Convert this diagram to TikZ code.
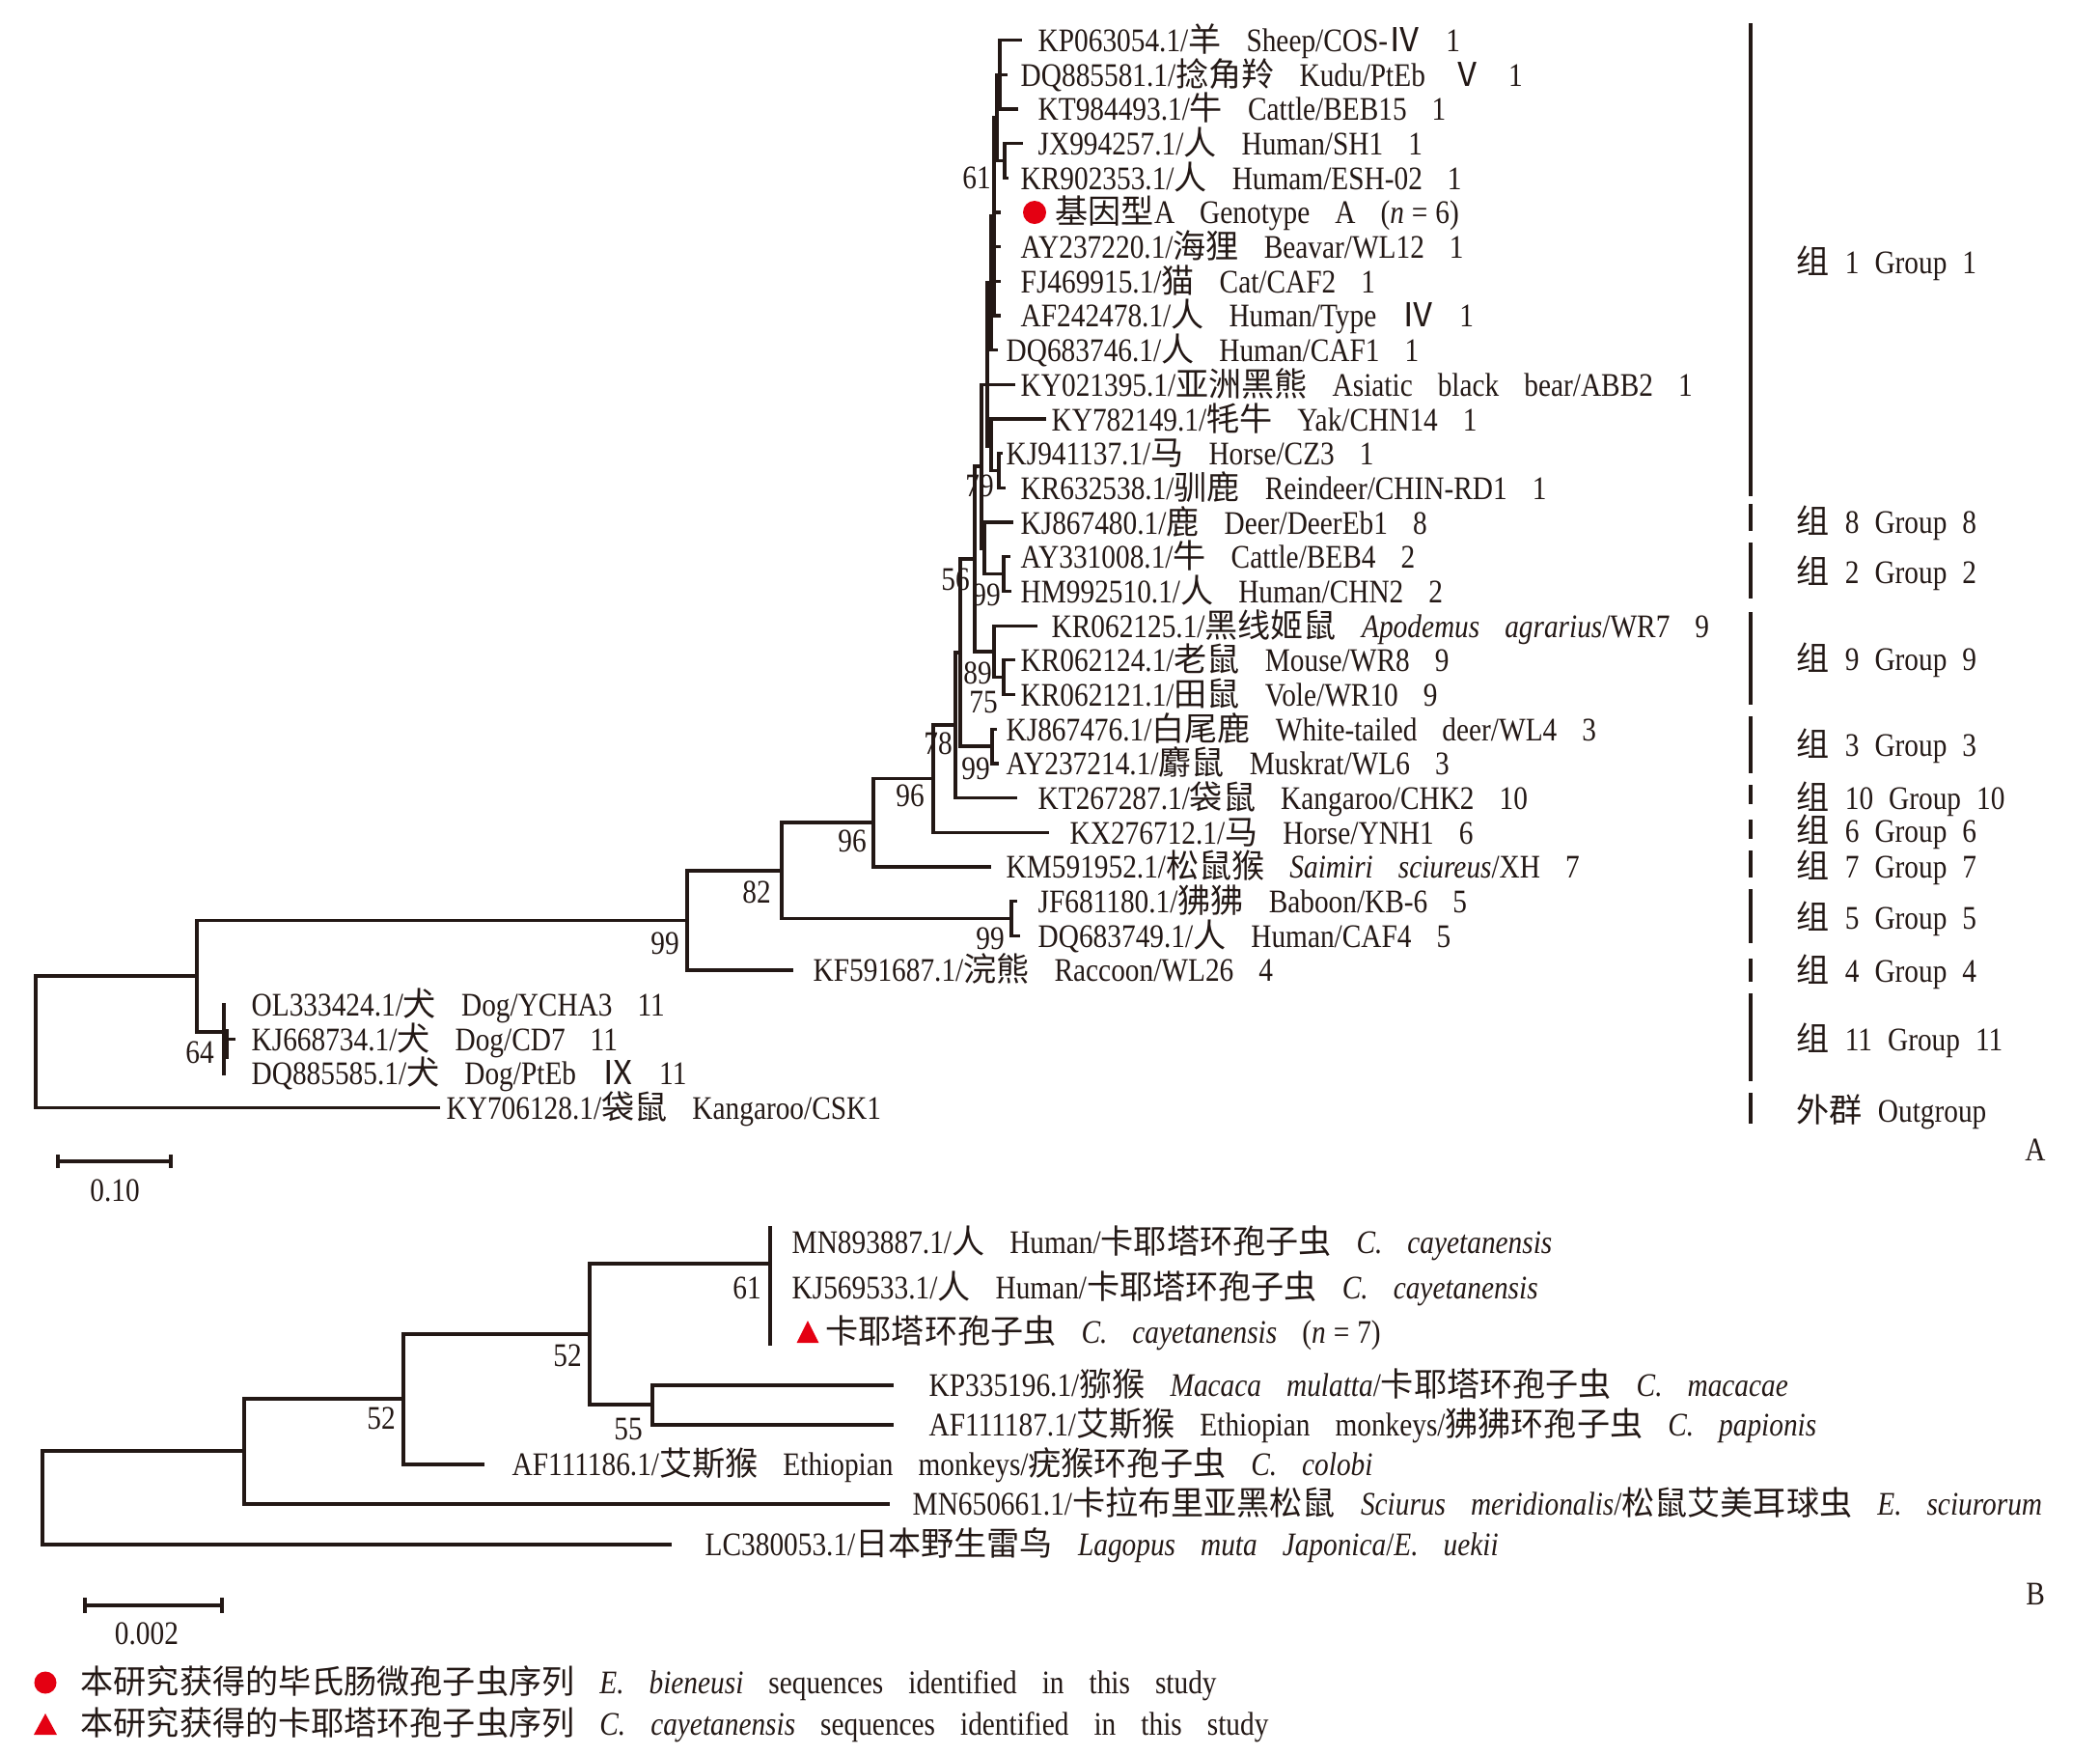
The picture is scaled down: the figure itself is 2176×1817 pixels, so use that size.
\documentclass[tikz,border=0pt]{standalone}
\usepackage{fontspec}
\setmainfont{Liberation Serif}[FakeStretch=0.86]
\newfontfamily\cjk{Noto Sans CJK SC}
\definecolor{ink}{RGB}{35,24,21}
\definecolor{markred}{RGB}{228,0,18}
\newcommand{\zh}[1]{{\cjk #1}}
\newcommand{\tlab}{\fontsize{9.7}{11}\selectfont\spaceskip=0.26cm\relax}
\newcommand{\glab}{\fontsize{9.7}{11}\selectfont\spaceskip=0.16cm\relax}
\newcommand{\ncount}[1]{(\textit{n}\hspace{0.08cm}=\hspace{0.08cm}#1)}

\begin{document}
\begin{tikzpicture}[x=0.01cm, y=-0.01cm, font=\tlab, text=ink,
  branch/.style={draw=ink, line width=0.95pt, line cap=rect},
  leaf/.style={anchor=west, inner sep=0pt, text height=0.68em, text depth=0pt},
  boot/.style={inner sep=0pt, text height=0.68em, text depth=0pt},
  groupname/.style={leaf, font=\glab},
  groupbar/.style={draw=ink, line width=1pt}]

  \useasboundingbox (0,0) rectangle (2176,1817);

  % Panel A: group 1 comb.
  \draw[branch] (1036,41.6) -- (1036,113.0)
    (1036,41.6) -- (1057,41.6) (1036,77.3) -- (1042,77.3) (1036,113.0) -- (1053,113.0);
  \draw[branch] (1041,148.6) -- (1041,184.3)
    (1041,148.6) -- (1058,148.6) (1041,184.3) -- (1043,184.3);
  \draw[branch] (1033,77.3) -- (1033,166.5) (1033,77.3) -- (1036,77.3) (1033,166.5) -- (1041,166.5);
  \draw[branch] (1030,122) -- (1030,327.0) (1030,122) -- (1033,122)
    (1030,220.0) -- (1035,220.0) (1030,255.7) -- (1035,255.7)
    (1030,291.4) -- (1035,291.4) (1030,327.0) -- (1035,327.0);
  \draw[branch] (1027,224) -- (1027,362.7) (1027,224) -- (1030,224) (1027,362.7) -- (1032,362.7);
  \draw[branch] (1023,293) -- (1023,462) (1023,293) -- (1027,293) (1023,462) -- (1027,462);
  \draw[branch] (1017,398.4) -- (1017,568) (1017,398.4) -- (1050,398.4); % bear
  \draw[branch] (1027,434.1) -- (1027,487.6) (1027,434.1) -- (1082,434.1) (1027,487.6) -- (1035,487.6);
  \draw[branch] (1035,469.8) -- (1035,505.4) (1035,469.8) -- (1037,469.8) (1035,505.4) -- (1040,505.4);

  % Groups 8 and 2.
  \draw[branch] (1020,541.1) -- (1020,594.6) (1020,541.1) -- (1048,541.1)
    (1020,594.6) -- (1040,594.6) (1017,568) -- (1020,568);
  \draw[branch] (1040,576.8) -- (1040,612.5) (1040,576.8) -- (1045,576.8) (1040,612.5) -- (1046,612.5);

  % Group 9.
  \draw[branch] (1010,483) -- (1010,675) (1010,483) -- (1017,483) (1010,675) -- (1030,675);
  \draw[branch] (1030,648.2) -- (1030,701.7) (1030,648.2) -- (1073,648.2) (1030,701.7) -- (1040,701.7);
  \draw[branch] (1040,683.8) -- (1040,719.5) (1040,683.8) -- (1050,683.8) (1040,719.5) -- (1050,719.5);

  % Group 3.
  \draw[branch] (995,579) -- (995,773) (995,579) -- (1010,579) (995,773) -- (1028,773);
  \draw[branch] (1028,755.2) -- (1028,790.9) (1028,755.2) -- (1031,755.2) (1028,790.9) -- (1033,790.9);

  % Deeper nodes.
  \draw[branch] (990,676) -- (990,826.6) (990,676) -- (995,676) (990,826.6) -- (1052,826.6);
  \draw[branch] (967,751) -- (967,862.2) (967,751) -- (990,751) (967,862.2) -- (1085,862.2);
  \draw[branch] (905,806.6) -- (905,897.9) (905,806.6) -- (967,806.6) (905,897.9) -- (1025,897.9);
  \draw[branch] (810,852) -- (810,951.5) (810,852) -- (905,852) (810,951.5) -- (1048,951.5);
  \draw[branch] (1048,933.6) -- (1048,969.3) (1048,933.6) -- (1052,933.6) (1048,969.3) -- (1055,969.3);
  \draw[branch] (712,902) -- (712,1005) (712,902) -- (810,902) (712,1005) -- (820,1005);
  \draw[branch] (204,953.5) -- (204,1069) (204,953.5) -- (712,953.5) (204,1069) -- (232,1069);
  \draw[branch] (232,1040.7) -- (232,1112) (232,1076.3) -- (242,1076.3) (235,1068) -- (235,1095);
  \draw[branch] (37,1011) -- (37,1147.7) (37,1011) -- (204,1011) (37,1147.7) -- (454,1147.7);

  % Leaves of panel A.
  \node[leaf] (kp063054) at (1075,41.6) {KP063054.1/\zh{羊} Sheep/COS-\zh{Ⅳ} 1};
  \node[leaf] (dq885581) at (1057,77.3) {DQ885581.1/\zh{捻角羚} Kudu/PtEb \zh{Ⅴ} 1};
  \node[leaf] (kt984493) at (1075,113.0) {KT984493.1/\zh{牛} Cattle/BEB15 1};
  \node[leaf] (jx994257) at (1075,148.6) {JX994257.1/\zh{人} Human/SH1 1};
  \node[leaf] (kr902353) at (1057,184.3) {KR902353.1/\zh{人} Humam/ESH-02 1};
  \fill[markred] (1072,220) circle[radius=0.12cm];
  \node[leaf] (genoa) at (1093,220.0) {\zh{基因型}A Genotype A \ncount{6}};
  \node[leaf] (ay237220) at (1057,255.7) {AY237220.1/\zh{海狸} Beavar/WL12 1};
  \node[leaf] (fj469915) at (1057,291.4) {FJ469915.1/\zh{猫} Cat/CAF2 1};
  \node[leaf] (af242478) at (1057,327.0) {AF242478.1/\zh{人} Human/Type \zh{Ⅳ} 1};
  \node[leaf] (dq683746) at (1042,362.7) {DQ683746.1/\zh{人} Human/CAF1 1};
  \node[leaf] (ky021395) at (1057,398.4) {KY021395.1/\zh{亚洲黑熊} Asiatic black bear/ABB2 1};
  \node[leaf] (ky782149) at (1089,434.1) {KY782149.1/\zh{牦牛} Yak/CHN14 1};
  \node[leaf] (kj941137) at (1042,469.8) {KJ941137.1/\zh{马} Horse/CZ3 1};
  \node[leaf] (kr632538) at (1057,505.4) {KR632538.1/\zh{驯鹿} Reindeer/CHIN-RD1 1};
  \node[leaf] (kj867480) at (1057,541.1) {KJ867480.1/\zh{鹿} Deer/DeerEb1 8};
  \node[leaf] (ay331008) at (1057,576.8) {AY331008.1/\zh{牛} Cattle/BEB4 2};
  \node[leaf] (hm992510) at (1057,612.5) {HM992510.1/\zh{人} Human/CHN2 2};
  \node[leaf] (kr062125) at (1089,648.2) {KR062125.1/\zh{黑线姬鼠} \textit{Apodemus agrarius}/WR7 9};
  \node[leaf] (kr062124) at (1057,683.8) {KR062124.1/\zh{老鼠} Mouse/WR8 9};
  \node[leaf] (kr062121) at (1057,719.5) {KR062121.1/\zh{田鼠} Vole/WR10 9};
  \node[leaf] (kj867476) at (1042,755.2) {KJ867476.1/\zh{白尾鹿} White-tailed deer/WL4 3};
  \node[leaf] (ay237214) at (1042,790.9) {AY237214.1/\zh{麝鼠} Muskrat/WL6 3};
  \node[leaf] (kt267287) at (1075,826.6) {KT267287.1/\zh{袋鼠} Kangaroo/CHK2 10};
  \node[leaf] (kx276712) at (1108,862.2) {KX276712.1/\zh{马} Horse/YNH1 6};
  \node[leaf] (km591952) at (1042,897.9) {KM591952.1/\zh{松鼠猴} \textit{Saimiri sciureus}/XH 7};
  \node[leaf] (jf681180) at (1075,933.6) {JF681180.1/\zh{狒狒} Baboon/KB-6 5};
  \node[leaf] (dq683749) at (1075,969.3) {DQ683749.1/\zh{人} Human/CAF4 5};
  \node[leaf] (kf591687) at (842,1005.0) {KF591687.1/\zh{浣熊} Raccoon/WL26 4};
  \node[leaf] (ol333424) at (260,1040.7) {OL333424.1/\zh{犬} Dog/YCHA3 11};
  \node[leaf] (kj668734) at (260,1076.3) {KJ668734.1/\zh{犬} Dog/CD7 11};
  \node[leaf] (dq885585) at (260,1112.0) {DQ885585.1/\zh{犬} Dog/PtEb \zh{Ⅸ} 11};
  \node[leaf] (ky706128) at (462,1147.7) {KY706128.1/\zh{袋鼠} Kangaroo/CSK1};

  % Bootstrap values, panel A.
  \node[boot] (bs61) at (1012,184) {61};
  \node[boot] (bs79) at (1015,503) {79};
  \node[boot] (bs56) at (990,600) {56};
  \node[boot] (bs99b) at (1022,616) {99};
  \node[boot] (bs89) at (1013,697) {89};
  \node[boot] (bs75) at (1019,727) {75};
  \node[boot] (bs78) at (972,770) {78};
  \node[boot] (bs99c) at (1011,796) {99};
  \node[boot] (bs96b) at (943,824) {96};
  \node[boot] (bs96a) at (883,871) {96};
  \node[boot] (bs82) at (784,924) {82};
  \node[boot] (bs99a) at (689,977) {99};
  \node[boot] (bs99d) at (1026,972) {99};
  \node[boot] (bs64) at (207,1090) {64};

  % Group bars and names.
  \foreach \a/\b in {24/514, 522/550, 562/620, 634/730, 742/801, 813/833,
                     849/869, 881/909, 921/977, 993/1017, 1029/1120, 1132/1164}
    \draw[groupbar] (1814,\a) -- (1814,\b);
  \node[groupname] (grp1) at (1861,272) {\zh{组} 1 Group 1};
  \node[groupname] (grp8) at (1861,541) {\zh{组} 8 Group 8};
  \node[groupname] (grp2) at (1861,593) {\zh{组} 2 Group 2};
  \node[groupname] (grp9) at (1861,683) {\zh{组} 9 Group 9};
  \node[groupname] (grp3) at (1861,772) {\zh{组} 3 Group 3};
  \node[groupname] (grp10) at (1861,827) {\zh{组} 10 Group 10};
  \node[groupname] (grp6) at (1861,861) {\zh{组} 6 Group 6};
  \node[groupname] (grp7) at (1861,898) {\zh{组} 7 Group 7};
  \node[groupname] (grp5) at (1861,951) {\zh{组} 5 Group 5};
  \node[groupname] (grp4) at (1861,1006) {\zh{组} 4 Group 4};
  \node[groupname] (grp11) at (1861,1077) {\zh{组} 11 Group 11};
  \node[groupname] (outg) at (1861,1151) {\zh{外群} Outgroup};
  \node[boot] (pana) at (2109,1191) {A};

  % Scale bar A.
  \draw[branch] (60,1203) -- (177,1203) (60,1198) -- (60,1208) (177,1198) -- (177,1208);
  \node[boot] (scalea) at (119,1233) {0.10};

  % Panel B tree.
  \draw[branch] (44,1503) -- (44,1600) (44,1503) -- (253,1503) (44,1600) -- (694,1600);
  \draw[branch] (253,1449) -- (253,1558) (253,1449) -- (418,1449) (253,1558) -- (920,1558);
  \draw[branch] (418,1382) -- (418,1517) (418,1382) -- (611,1382) (418,1517) -- (500,1517);
  \draw[branch] (611,1309) -- (611,1455) (611,1309) -- (798,1309) (611,1455) -- (676,1455);
  \draw[branch] (798,1272) -- (798,1392);
  \draw[branch] (676,1435) -- (676,1476) (676,1435) -- (924,1435) (676,1476) -- (924,1476);

  % Leaves of panel B.
  \node[leaf] (mn893887) at (820,1287) {MN893887.1/\zh{人} Human/\zh{卡耶塔环孢子虫} \textit{C. cayetanensis}};
  \node[leaf] (kj569533) at (820,1334) {KJ569533.1/\zh{人} Human/\zh{卡耶塔环孢子虫} \textit{C. cayetanensis}};
  \fill[markred] (825.5,1391) -- (848.5,1391) -- (837,1368) -- cycle;
  \node[leaf] (cayet) at (855,1380) {\zh{卡耶塔环孢子虫} \textit{C. cayetanensis} \ncount{7}};
  \node[leaf] (kp335196) at (962,1435) {KP335196.1/\zh{猕猴} \textit{Macaca mulatta}/\zh{卡耶塔环孢子虫} \textit{C. macacae}};
  \node[leaf] (af111187) at (962,1476) {AF111187.1/\zh{艾斯猴} Ethiopian monkeys/\zh{狒狒环孢子虫} \textit{C. papionis}};
  \node[leaf] (af111186) at (530,1517) {AF111186.1/\zh{艾斯猴} Ethiopian monkeys/\zh{疣猴环孢子虫} \textit{C. colobi}};
  \node[leaf] (mn650661) at (945,1558) {MN650661.1/\zh{卡拉布里亚黑松鼠} \textit{Sciurus meridionalis}/\zh{松鼠艾美耳球虫} \textit{E. sciurorum}};
  \node[leaf] (lc380053) at (730,1600) {LC380053.1/\zh{日本野生雷鸟} \textit{Lagopus muta Japonica}/\textit{E. uekii}};

  % Bootstrap values, panel B.
  \node[boot] (bsb61) at (774,1334) {61};
  \node[boot] (bsb52a) at (588,1404) {52};
  \node[boot] (bsb52b) at (395,1469) {52};
  \node[boot] (bsb55) at (651,1480) {55};
  \node[boot] (panb) at (2109,1651) {B};

  % Scale bar B.
  \draw[branch] (88,1663) -- (230,1663) (88,1657) -- (88,1669) (230,1657) -- (230,1669);
  \node[boot] (scaleb) at (152,1692) {0.002};

  % Legend.
  \fill[markred] (47,1743) circle[radius=0.115cm];
  \node[leaf] (legebi) at (83,1743) {\zh{本研究获得的毕氏肠微孢子虫序列} \textit{E. bieneusi} sequences identified in this study};
  \fill[markred] (35,1797) -- (59,1797) -- (47,1775) -- cycle;
  \node[leaf] (legcay) at (83,1786) {\zh{本研究获得的卡耶塔环孢子虫序列} \textit{C. cayetanensis} sequences identified in this study};

\end{tikzpicture}
\end{document}
